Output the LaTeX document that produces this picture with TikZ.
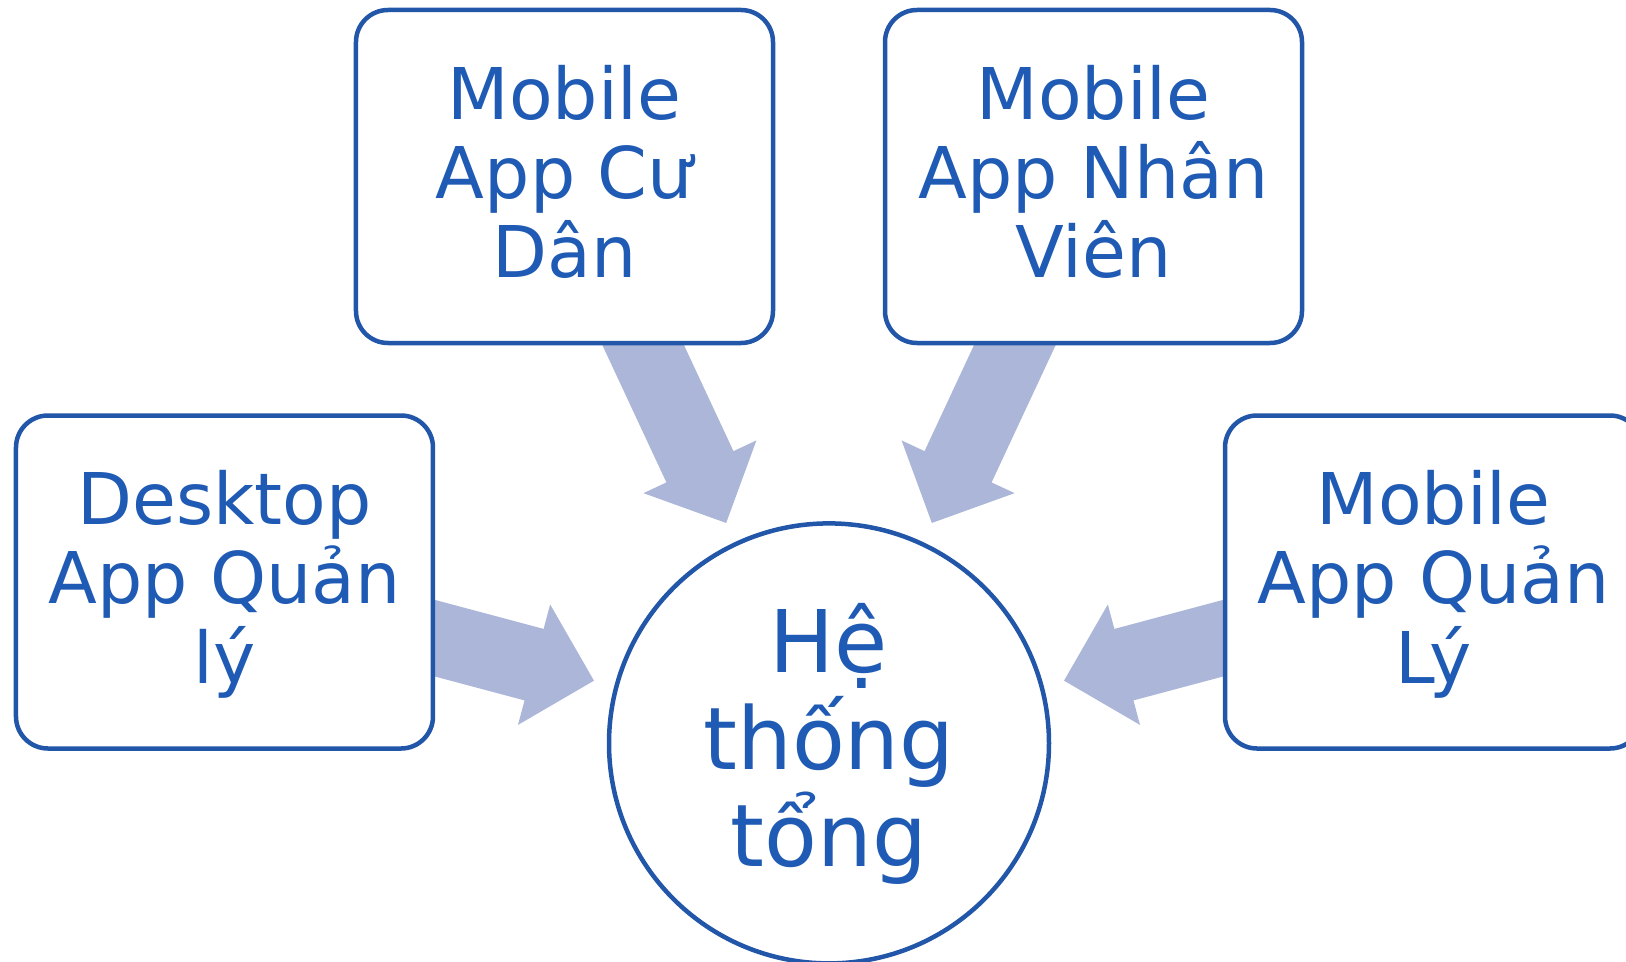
\documentclass[tikz,border=0pt]{standalone}
\usepackage{fontspec}
\setmainfont{DejaVu Sans}
\usepackage{xcolor}
\usepackage{tikz}
\usetikzlibrary{shapes.geometric,arrows.meta,backgrounds}
\definecolor{smartblue}{HTML}{2256A8}
\definecolor{smarttext}{HTML}{1F5BB4}
\definecolor{smartarrow}{HTML}{ABB6D8}

\begin{document}
\begin{tikzpicture}[
        appbox/.style={draw=smartblue, line width=0.045cm, fill=white, rounded corners=0.32cm, minimum width=4.17cm, minimum height=3.33cm, text=smarttext, align=center, text height=59.8pt, text depth=2.3pt, font=\fontsize{20.3}{22.5}\selectfont},
        hubcircle/.style={draw=smartblue, line width=0.045cm, fill=white, circle, inner sep=0pt, minimum size=4.4cm, text=smarttext, align=center, text height=73.3pt, text depth=3.1pt, font=\fontsize{24.6}{27.7}\selectfont},
        flow/.style={draw=smartarrow, line width=0.74cm, -{Triangle[length=0.62cm, width=1.24cm, line width=1pt]}, shorten >=0.21cm}
    ]
                \clip (-8.29,7.434) rectangle (7.97,-2.176);
                \node[hubcircle] (hub) at (0,0) {Hệ\\thống\\tổng};
                \node[appbox, above of=hub, xshift=-2.645cm, yshift=4.669cm] (cudan) {Mobile\\App Cư\\Dân};
                \node[appbox, above of=hub, xshift=2.645cm, yshift=4.669cm] (nhanvien) {Mobile\\App Nhân\\Viên};
                \node[appbox, left of=hub, xshift=-5.045cm, yshift=1.614cm] (desktop) {Desktop\\App Quản\\lý};
                \node[appbox, right of=hub, xshift=5.045cm, yshift=1.614cm] (mobileql) {Mobile\\App Quản\\Lý};
                \begin{pgfonlayer}{background}
                \draw[flow](cudan.center) -- (hub);
                \draw[flow](nhanvien.center) -- (hub);
                \draw[flow](desktop.center) -- (hub);
                \draw[flow](mobileql.center) -- (hub);
                \end{pgfonlayer}
            \end{tikzpicture}
\end{document}
